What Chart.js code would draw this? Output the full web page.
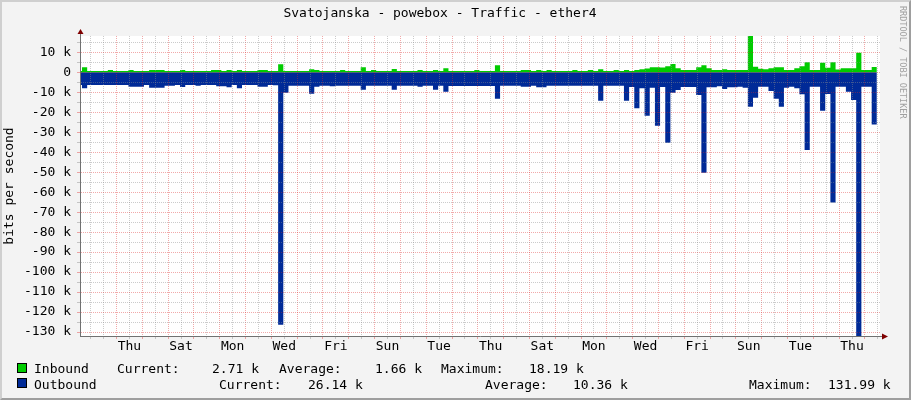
<!DOCTYPE html>
<html>
<head>
<meta charset="utf-8">
<title>Svatojanska - powebox - Traffic - ether4</title>
<script src="https://cdn.jsdelivr.net/npm/chart.js@4.4.1/dist/chart.umd.min.js"></script>
<style>
  html, body { margin: 0; padding: 0; background: #f3f3f3; }
  #wrap {
    position: relative; width: 911px; height: 400px; overflow: hidden;
    font-family: 'DejaVu Sans Mono', monospace; font-size: 13px; color: #000;
  }
  #wrap canvas { position: absolute; left: 0; top: 0; }
  .frame {
    position: absolute; left: 0; top: 0; width: 911px; height: 400px; box-sizing: border-box;
    border-style: solid; border-width: 2px;
    border-color: #cfcfcf #9e9e9e #9e9e9e #cfcfcf; pointer-events: none;
  }
  .t { position: absolute; white-space: pre; line-height: 15px; }
  .sw { position: absolute; left: 17px; width: 8px; height: 8px; border: 1px solid #000; }
  .credit {
    position: absolute; left: 898px; top: 6px; writing-mode: vertical-rl;
    font-size: 8.5px; line-height: 10px; color: #a0a0a0; white-space: pre;
  }
</style>
</head>
<body>
<div id="wrap">
  <canvas id="chart" width="911" height="400"></canvas>
  <div class="frame"></div>
  <div class="credit">RRDTOOL / TOBI OETIKER</div>

  <div class="sw" style="top:363px;background:#00cc00"></div>
  <div class="t" style="left:34px;top:361px">Inbound</div>
  <div class="t" style="left:117px;top:361px">Current:</div>
  <div class="t" style="left:212px;top:361px">2.71 k</div>
  <div class="t" style="left:279px;top:361px">Average:</div>
  <div class="t" style="left:375px;top:361px">1.66 k</div>
  <div class="t" style="left:441px;top:361px">Maximum:</div>
  <div class="t" style="left:529px;top:361px">18.19 k</div>

  <div class="sw" style="top:378px;background:#002a97"></div>
  <div class="t" style="left:34px;top:377px">Outbound</div>
  <div class="t" style="left:219px;top:377px">Current:</div>
  <div class="t" style="left:308px;top:377px">26.14 k</div>
  <div class="t" style="left:485px;top:377px">Average:</div>
  <div class="t" style="left:573px;top:377px">10.36 k</div>
  <div class="t" style="left:749px;top:377px">Maximum:</div>
  <div class="t" style="left:828px;top:377px">131.99 k</div>
</div>

<script>
// time axis in days from the left edge of the graph
const RANGE_DAYS = 31;
const FIRST_MIDNIGHT = 1.415;
const SAMPLE_START = -0.122;
const SAMPLE_STEP = 0.2; // 4.8 h per consolidated sample

const dayLabels = ["Thu", "Sat", "Mon", "Wed", "Fri", "Sun", "Tue",
  "Thu", "Sat", "Mon", "Wed", "Fri", "Sun", "Tue", "Thu"];

// inbound, k bits/s (one value per sample)
const inbound = [
  0.7, 2.6, 0.7, 0.7, 0.7, 0.7, 1.2, 0.7, 0.7, 0.7,
  1.2, 0.7, 0.7, 0.7, 1.2, 1.2, 1.2, 0.7, 0.7, 0.7,
  1.2, 0.7, 0.7, 0.7, 0.7, 0.7, 1.2, 1.2, 0.7, 1.2,
  0.7, 1.2, 0.7, 0.7, 0.7, 1.2, 1.2, 0.7, 0.7, 4.0,
  0.7, 0.7, 0.7, 0.7, 0.7, 1.6, 1.2, 0.7, 0.7, 0.7,
  0.7, 1.2, 0.7, 0.7, 0.7, 2.6, 0.7, 1.2, 0.7, 0.7,
  0.7, 1.7, 0.7, 0.7, 0.7, 0.7, 1.2, 0.7, 0.7, 1.2,
  0.7, 2.1, 0.7, 0.7, 0.7, 0.7, 0.7, 1.2, 0.7, 0.7,
  0.7, 3.6, 0.7, 0.7, 0.7, 0.7, 1.2, 1.2, 0.7, 1.2,
  0.7, 1.2, 0.7, 0.7, 0.7, 0.7, 1.2, 0.7, 0.7, 1.2,
  0.7, 1.6, 0.7, 0.7, 1.2, 0.7, 1.2, 0.7, 1.2, 1.6,
  1.9, 2.6, 2.6, 2.4, 3.0, 4.2, 2.0, 1.2, 1.2, 1.2,
  2.6, 3.6, 2.0, 1.2, 1.2, 1.6, 1.2, 1.2, 1.2, 1.2,
  18.19, 2.8, 1.8, 1.5, 2.0, 2.5, 2.5, 1.15, 1.15, 2.0,
  3.1, 5.1, 1.2, 1.2, 4.8, 2.3, 5.1, 1.4, 2.0, 2.0,
  2.0, 9.8, 1.15, 1.15, 2.71
];

// outbound, k bits/s (drawn below zero)
const outbound = [
  6.3, 8.0, 6.3, 6.3, 6.3, 6.3, 6.3, 6.3, 6.3, 6.3,
  7.2, 7.2, 7.2, 6.3, 7.7, 7.7, 7.7, 6.7, 6.7, 6.3,
  7.3, 6.3, 6.3, 6.7, 6.3, 6.3, 6.3, 7.0, 7.0, 7.5,
  6.3, 8.0, 6.3, 6.3, 6.3, 7.2, 7.2, 6.3, 6.5, 126.3,
  10.2, 6.7, 6.7, 6.7, 6.7, 10.7, 7.2, 6.7, 6.7, 7.0,
  6.7, 6.7, 6.7, 6.7, 6.7, 8.7, 6.7, 6.7, 6.7, 6.7,
  6.7, 8.7, 6.7, 6.7, 6.7, 6.7, 7.2, 6.7, 6.7, 8.7,
  6.7, 9.7, 6.8, 6.8, 6.8, 6.8, 6.8, 6.8, 6.8, 6.8,
  6.8, 13.2, 6.7, 6.7, 6.7, 6.7, 7.2, 7.2, 6.7, 7.5,
  7.5, 6.7, 6.7, 6.7, 6.7, 6.7, 6.7, 6.7, 6.7, 6.7,
  6.7, 14.2, 6.7, 6.7, 6.7, 6.7, 14.2, 7.3, 18.0, 8.0,
  21.7, 7.7, 26.7, 7.3, 35.2, 10.2, 8.9, 7.4, 7.4, 7.4,
  11.4, 50.3, 7.5, 7.5, 7.0, 8.3, 7.5, 7.5, 7.2, 7.7,
  17.2, 12.7, 7.2, 7.2, 9.3, 13.2, 17.2, 7.7, 7.2, 8.0,
  11.0, 38.9, 7.2, 7.2, 19.2, 10.9, 65.2, 7.2, 7.2, 9.7,
  13.9, 131.99, 7.2, 7.2, 26.14
];

const yMin = -131.99;
const yMax = 18.19;
const yTicks = [];
for (let v = 15; v >= -130; v -= 5) yTicks.push(v);

const FONT = "'DejaVu Sans Mono', monospace";
const GRID_MINOR = "rgba(140,140,140,0.45)";
const GRID_MAJOR = "rgba(220,40,40,0.4)";
const AXIS = "#707070";

function toPoints(vals, sign) {
  const pts = vals.map((v, i) => ({ x: SAMPLE_START + i * SAMPLE_STEP, y: sign * v }));
  pts.push({ x: SAMPLE_START + vals.length * SAMPLE_STEP, y: sign * vals[vals.length - 1] });
  return pts;
}

function isMidnight(v) {
  const d = v - FIRST_MIDNIGHT;
  return d > -1e-6 && Math.abs(d - Math.round(d)) < 1e-6;
}

// white canvas area, plus the rrdtool style axis arrows
const rrdDecor = {
  id: "rrdDecor",
  beforeDraw(chart) {
    const { ctx, chartArea: a } = chart;
    ctx.save();
    ctx.fillStyle = "#ffffff";
    ctx.fillRect(a.left, a.top, a.right - a.left, a.bottom - a.top);
    ctx.restore();
  },
  afterDraw(chart) {
    const { ctx, chartArea: a } = chart;
    ctx.save();
    ctx.strokeStyle = AXIS;
    ctx.lineWidth = 1;
    ctx.beginPath();
    ctx.moveTo(a.left + 0.5, a.top);
    ctx.lineTo(a.left + 0.5, a.top - 3);
    ctx.moveTo(a.right, a.bottom + 0.5);
    ctx.lineTo(a.right + 3, a.bottom + 0.5);
    ctx.stroke();
    ctx.fillStyle = "#7f0000";
    ctx.beginPath();
    ctx.moveTo(a.left - 2.5, a.top - 2);
    ctx.lineTo(a.left + 3.5, a.top - 2);
    ctx.lineTo(a.left + 0.5, a.top - 7);
    ctx.closePath();
    ctx.fill();
    ctx.beginPath();
    ctx.moveTo(a.right + 2, a.bottom - 2.5);
    ctx.lineTo(a.right + 2, a.bottom + 3.5);
    ctx.lineTo(a.right + 8, a.bottom + 0.5);
    ctx.closePath();
    ctx.fill();
    ctx.restore();
  },
};

Chart.defaults.font.family = FONT;
Chart.defaults.font.size = 13;
Chart.defaults.color = "#000";

new Chart(document.getElementById("chart"), {
  type: "line",
  data: {
    datasets: [
      {
        label: "Inbound",
        data: toPoints(inbound, 1),
        stepped: "before",
        fill: "origin",
        backgroundColor: "#00cc00",
        borderColor: "rgba(0,0,0,0)",
        borderWidth: 1,
        pointRadius: 0,
      },
      {
        label: "Outbound",
        data: toPoints(outbound, -1),
        stepped: "before",
        fill: "origin",
        backgroundColor: "#002a97",
        borderColor: "rgba(0,0,0,0)",
        borderWidth: 1,
        pointRadius: 0,
      },
    ],
  },
  options: {
    responsive: false,
    devicePixelRatio: 1,
    animation: false,
    events: [],
    layout: { padding: { left: 0, right: 31, top: 0, bottom: 40 } },
    plugins: {
      legend: { display: false },
      tooltip: { enabled: false },
      title: {
        display: true,
        text: "Svatojanska - powebox - Traffic - ether4",
        color: "#000",
        font: { family: FONT, size: 13, weight: "normal" },
        padding: { top: 6, bottom: 14.4 },
      },
    },
    scales: {
      x: {
        type: "linear",
        min: 0,
        max: RANGE_DAYS,
        afterFit: (scale) => { scale.height = 24; },
        afterBuildTicks: (scale) => {
          const ticks = [];
          for (let k = 0; FIRST_MIDNIGHT - 1 + k * 0.5 <= RANGE_DAYS; k++) {
            const v = FIRST_MIDNIGHT - 1 + k * 0.5;
            if (v >= 0) ticks.push({ value: v });
          }
          scale.ticks = ticks;
        },
        ticks: {
          autoSkip: false,
          maxRotation: 0,
          padding: 1,
          color: "#000",
          font: { family: FONT, size: 13, lineHeight: 1 },
          callback: (value) => {
            const d = (value - FIRST_MIDNIGHT - 0.5) / 2;
            const k = Math.round(d);
            if (Math.abs(d - k) > 1e-6 || k < 0 || k >= dayLabels.length) return "";
            return dayLabels[k];
          },
        },
        grid: {
          z: 1,
          color: (ctx) => (ctx.tick && isMidnight(ctx.tick.value) ? GRID_MAJOR : GRID_MINOR),
          tickLength: 3,
          tickBorderDash: [],
        },
        border: { display: true, color: AXIS, width: 1, dash: [1, 1], z: 1 },
      },
      y: {
        type: "linear",
        min: yMin,
        max: yMax,
        afterFit: (scale) => { scale.width = 80; },
        afterBuildTicks: (scale) => {
          scale.ticks = yTicks.map((v) => ({ value: v }));
        },
        ticks: {
          autoSkip: false,
          padding: 6,
          color: "#000",
          font: { family: FONT, size: 13, lineHeight: 1 },
          callback: (value) => {
            const r = Math.round(value);
            if (r % 10 !== 0) return "";
            return r === 0 ? "0" : r + " k";
          },
        },
        grid: {
          z: 1,
          color: (ctx) => (ctx.tick && Math.round(ctx.tick.value) % 10 === 0 ? GRID_MAJOR : GRID_MINOR),
          tickLength: 3,
          tickBorderDash: [],
        },
        border: { display: true, color: AXIS, width: 1, dash: [1, 1], z: 1 },
        title: {
          display: true,
          text: "bits per second",
          color: "#000",
          font: { family: FONT, size: 13 },
          padding: { top: 2, bottom: 0 },
        },
      },
    },
  },
  plugins: [rrdDecor],
});
</script>
</body>
</html>
